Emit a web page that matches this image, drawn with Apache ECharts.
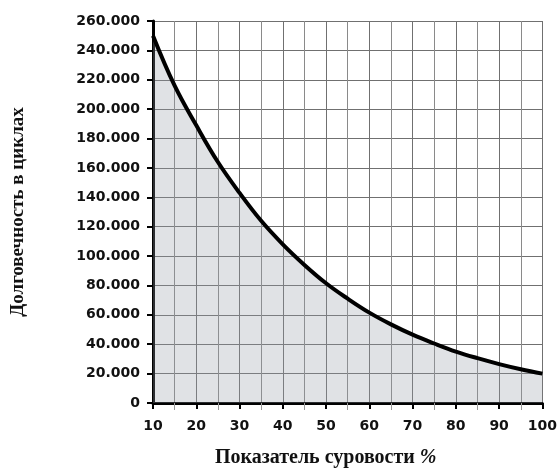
<!DOCTYPE html>
<html>
<head>
<meta charset="utf-8">
<script src="https://cdn.jsdelivr.net/npm/echarts@6/dist/echarts.min.js"></script>
<style>
html,body{margin:0;padding:0;background:#fff;}
#c{width:560px;height:473px;}
</style>
</head>
<body>
<div id="c"></div>
<script>
// Data
const severity = [10, 15, 20, 25, 30, 35, 40, 45, 50, 55, 60, 65, 70, 75, 80, 85, 90, 95, 100];
const cycles = [250000, 216000, 189000, 164000, 143000, 124000, 108000, 94000, 81500, 71000, 61500, 53500, 46500, 40500, 35000, 30500, 26500, 23000, 20000];
const xTitle = 'Показатель суровости ';
const xTitleUnit = '%';
const yTitle = 'Долговечность в циклах';

const chart = echarts.init(document.getElementById('c'));
const fmt = v => v === 0 ? '0' : (v / 1000).toFixed(0) + '.000';
const titleFont = {fontFamily: 'Liberation Serif', fontWeight: 'bold', fontSize: 20, color: '#111'};
chart.setOption({
  animation: false,
  backgroundColor: '#fff',
  grid: {left: 153, right: 17, top: 21, bottom: 66, containLabel: false},
  xAxis: {
    type: 'value', min: 10, max: 100, interval: 10,
    name: '{a|' + xTitle + '}{b|' + xTitleUnit + '}', nameLocation: 'middle', nameGap: 45,
    nameTextStyle: Object.assign({}, titleFont, {
      padding: [0, 44, 0, 0],
      rich: {
        a: titleFont,
        b: {fontFamily: 'Liberation Serif', fontStyle: 'italic', fontSize: 20, color: '#111'}
      }
    }),
    axisLine: {lineStyle: {color: '#000', width: 3}},
    axisTick: {show: true, length: 6, lineStyle: {color: '#000', width: 2}},
    minorTick: {show: true, splitNumber: 2, length: 7, lineStyle: {color: '#999', width: 1}},
    axisLabel: {fontFamily: 'DejaVu Sans', fontWeight: 'bold', fontSize: 14, color: '#111', margin: 16},
    splitLine: {show: true, lineStyle: {color: '#707070', width: 1}},
    minorSplitLine: {show: true, lineStyle: {color: '#8a8a8a', width: 1}}
  },
  yAxis: {
    type: 'value', min: 0, max: 260000, interval: 20000,
    name: yTitle, nameLocation: 'middle', nameGap: 125, nameRotate: 90,
    nameTextStyle: Object.assign({}, titleFont, {fontSize: 19}),
    axisLine: {show: true, lineStyle: {color: '#000', width: 3}},
    axisTick: {show: true, length: 6, lineStyle: {color: '#000', width: 2}},
    axisLabel: {fontFamily: 'DejaVu Sans', fontWeight: 'bold', fontSize: 14, color: '#111', margin: 13, formatter: fmt},
    splitLine: {show: true, lineStyle: {color: '#707070', width: 1}}
  },
  series: [{
    type: 'line',
    data: severity.map((x, i) => [x, cycles[i]]),
    smooth: 0.4,
    symbol: 'none',
    lineStyle: {color: '#000', width: 4},
    areaStyle: {color: 'rgba(150,155,165,0.42)'}
  }]
});
</script>
</body>
</html>
